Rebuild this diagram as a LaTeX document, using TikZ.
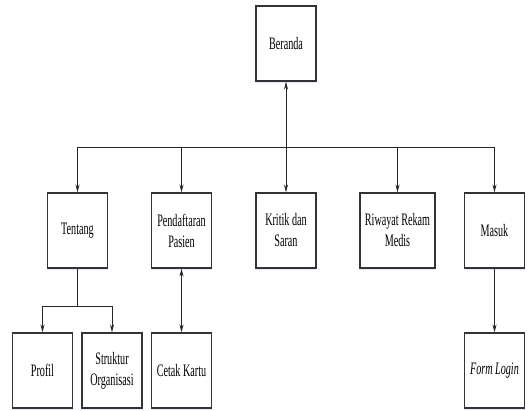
\documentclass[tikz,border=0pt]{standalone}
\usepackage{fontspec}
\setmainfont{Liberation Serif}[FakeStretch=0.58]
\usetikzlibrary{arrows.meta,shadows}
\begin{document}
\begin{tikzpicture}[x=1pt,y=1pt,
  box/.style={draw=black!80, line width=1.1pt, fill=white, minimum width=60pt, minimum height=75pt,
    align=center, inner sep=1pt, font=\fontsize{17.5}{21}\selectfont,
    drop shadow={shadow xshift=0pt, shadow yshift=-2pt, fill=blue!12, opacity=0.8}},
  conn/.style={draw=black!85, line width=0.9pt},
  >={Stealth[length=8pt,width=4pt]}]
\useasboundingbox (0,0) rectangle (530,-410);
% top
\node[box] (ber) at (286,-43.5) {Beranda};
% middle row
\node[box] (ten) at (77.5,-230.5) {Tentang};
\node[box] (pen) at (181.5,-230.5) {Pendaftaran\\Pasien};
\node[box] (kri) at (286,-230.5) {Kritik dan\\Saran};
\node[box, minimum width=75pt] (riw) at (397.5,-230.5) {Riwayat Rekam\\Medis};
\node[box] (mas) at (494.5,-230.5) {Masuk};
% bottom row
\node[box] (pro) at (42.5,-370.5) {Profil};
\node[box] (str) at (112,-370.5) {Struktur\\Organisasi};
\node[box] (cet) at (181.5,-370.5) {Cetak Kartu};
\node[box] (frm) at (494.5,-370.5) {\itshape Form Login};
% connectors
\coordinate (bus) at (286,-147);
\coordinate (tb) at (77.5,-306);
\draw[conn,<->] (ber) -- (kri);
\draw[conn,->] (bus) -| (ten);
\draw[conn,->] (bus) -| (pen);
\draw[conn,->] (bus) -| (riw);
\draw[conn,->] (bus) -| (mas);
\draw[conn] (ten) -- (tb);
\draw[conn,->] (tb) -| (pro);
\draw[conn,->] (tb) -| (str);
\draw[conn,<->] (pen) -- (cet);
\draw[conn,->] (mas) -- (frm);
\end{tikzpicture}
\end{document}
